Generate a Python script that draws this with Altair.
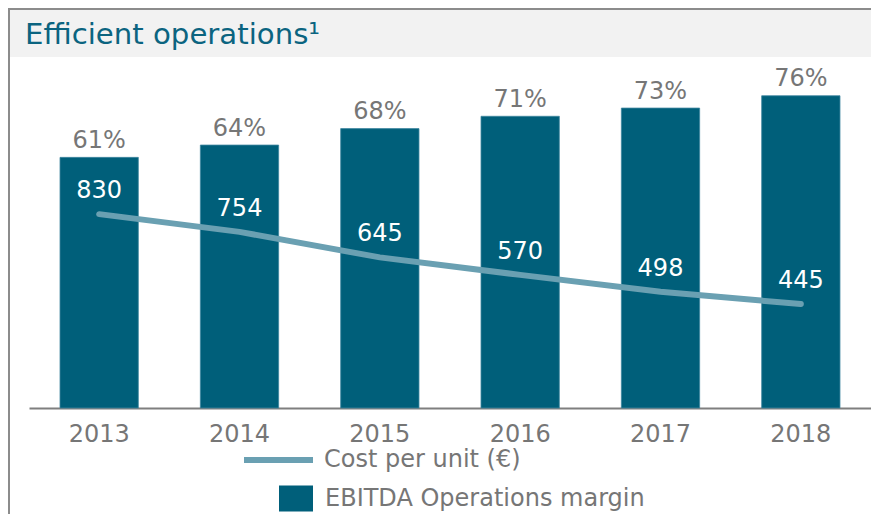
import altair as alt
import pandas as pd

years = ["2013", "2014", "2015", "2016", "2017", "2018"]
margin = [61, 64, 68, 71, 73, 76]
cost = [830, 754, 645, 570, 498, 445]
line_name = "Cost per unit (€)"
bar_name = "EBITDA Operations margin"
title_text = "Efficient operations¹"

df = pd.DataFrame({
    "year": years,
    "margin": margin,
    "cost": cost,
    "line_series": [line_name] * len(years),
    "bar_series": [bar_name] * len(years),
})

FONT = "DejaVu Sans"
GRAY = "#767676"
BAR = "#005f7a"
LINE = "#6aa0b2"
TITLE_C = "#0b6480"

W, H = 842, 348
PL, PT, PR, PB = 21, 52, 0, 106

x_enc = alt.X(
    "year:O",
    sort=years,
    scale=alt.Scale(paddingInner=0.442, paddingOuter=0.221),
    axis=alt.Axis(
        title=None, ticks=False, labelAngle=0, labelFontSize=24,
        labelFont=FONT, labelColor=GRAY, labelPadding=14,
        domainColor="#7f7f7f", domainWidth=2,
    ),
)
y_bar = alt.Y("margin:Q", scale=alt.Scale(domain=[0, 84.7], nice=False), axis=None)
y_cost = alt.Y("cost:Q", scale=alt.Scale(domain=[0, 1490], nice=False), axis=None)

one = alt.Data(values=[{"t": title_text}])
band = alt.Chart(one).mark_rect(color="#f2f2f2").encode(
    x=alt.value(-PL), x2=alt.value(W), y=alt.value(-PT), y2=alt.value(-3)
)
top_border = alt.Chart(one).mark_rule(color="#8c8c8c", strokeWidth=2).encode(
    x=alt.value(-PL), x2=alt.value(W), y=alt.value(-PT + 1)
)
left_border = alt.Chart(one).mark_rule(color="#8c8c8c", strokeWidth=2).encode(
    x=alt.value(-PL + 1), y=alt.value(-PT), y2=alt.value(H + PB)
)
title = alt.Chart(one).mark_text(
    align="left", baseline="alphabetic", fontSize=29.2, font=FONT, color=TITLE_C
).encode(x=alt.value(-4), y=alt.value(-16.5), text="t:N")

base = alt.Chart(df)

bars = base.mark_bar(stroke="#3f87a0", strokeWidth=0.8).encode(
    x=x_enc,
    y=y_bar,
    fill=alt.Fill(
        "bar_series:N",
        scale=alt.Scale(range=[BAR]),
        legend=alt.Legend(
            title=None, orient="none", legendX=250, legendY=421.5, padding=0,
            symbolType="M-1,-0.76H1V0.76H-1Z", symbolSize=1156,
            symbolStrokeWidth=0, labelOffset=12, labelFontSize=24,
            labelFont=FONT, labelColor=GRAY, labelLimit=0,
        ),
    ),
)

pct = base.transform_calculate(lbl="datum.margin + '%'").mark_text(
    dy=-9.5, baseline="alphabetic", fontSize=24, font=FONT, color=GRAY
).encode(x=x_enc, y=y_bar, text="lbl:N")

line = base.mark_line(strokeWidth=6, strokeCap="round").encode(
    x=x_enc,
    y=y_cost,
    stroke=alt.Stroke(
        "line_series:N",
        scale=alt.Scale(range=[LINE]),
        legend=alt.Legend(
            title=None, orient="none", legendX=212, legendY=362.5, padding=0,
            symbolType="stroke", symbolSize=4761, symbolStrokeWidth=6,
            labelOffset=8, labelFontSize=24, labelFont=FONT,
            labelColor=GRAY, labelLimit=0,
        ),
    ),
)

cost_lbl = base.mark_text(
    dy=-16, baseline="alphabetic", fontSize=24, font=FONT, color="white"
).encode(x=x_enc, y=y_cost, text="cost:Q")

chart = alt.layer(
    band, top_border, left_border, title, bars, pct, line, cost_lbl
).resolve_scale(y="independent").properties(
    width=W,
    height=H,
    padding={"left": PL, "top": PT, "right": PR, "bottom": PB},
    autosize=alt.AutoSizeParams(type="none"),
    background="white",
).configure_view(stroke=None)

chart.save("out.html", embed_options={"renderer": "svg", "actions": False})
